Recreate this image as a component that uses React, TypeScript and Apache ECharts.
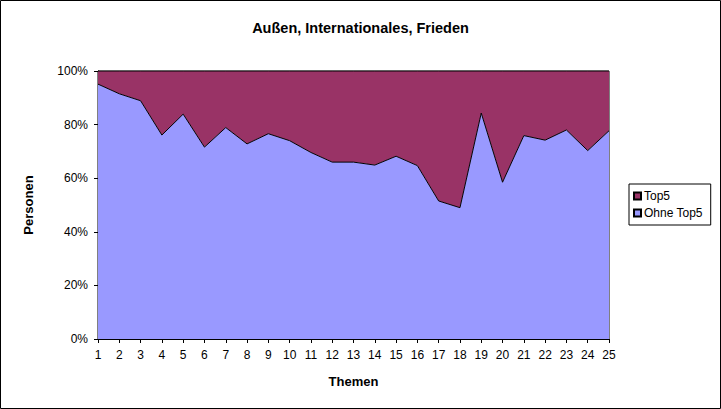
import { useEffect, useRef } from "react";
import * as echarts from "echarts";

// Themen 1..25, share of persons in percent
const themen = ["1", "2", "3", "4", "5", "6", "7", "8", "9", "10", "11", "12", "13",
  "14", "15", "16", "17", "18", "19", "20", "21", "22", "23", "24", "25"];
const ohneTop5 = [95.1, 91.5, 88.9, 76.1, 83.9, 71.6, 78.9, 72.8, 76.6, 74.0, 69.6, 66.0, 66.0,
  64.9, 68.2, 64.7, 51.5, 49.0, 84.3, 58.5, 75.9, 74.2, 78.0, 70.3, 77.7];
const top5 = [4.9, 8.5, 11.1, 23.9, 16.1, 28.4, 21.1, 27.2, 23.4, 26.0, 30.4, 34.0, 34.0,
  35.1, 31.8, 35.3, 48.5, 51.0, 15.7, 41.5, 24.1, 25.8, 22.0, 29.7, 22.3];
const yTicks = [0, 20, 40, 60, 80, 100];

const FONT = "'Liberation Sans', Arial, sans-serif";

export default function App() {
  const chartRef = useRef<HTMLDivElement>(null);

  useEffect(() => {
    if (!chartRef.current) return;
    const chart = echarts.init(chartRef.current, null, { renderer: "svg" });

    chart.setOption({
      animation: false,
      backgroundColor: "#ffffff",
      textStyle: { fontFamily: FONT },
      title: {
        text: "Außen, Internationales, Frieden",
        left: "center",
        top: 20,
        padding: 0,
        textStyle: { fontSize: 14.5, fontWeight: "bold", color: "#000", fontFamily: FONT },
      },
      graphic: [
        {
          type: "rect",
          shape: { x: 0.5, y: 0.5, width: 720, height: 408 },
          style: { fill: "none", stroke: "#000", lineWidth: 1 },
          silent: true,
        },
      ],
      legend: {
        orient: "vertical",
        left: 629,
        top: 184,
        width: 80,
        padding: [6, 8, 6, 4],
        itemGap: 5,
        itemWidth: 7,
        itemHeight: 7,
        borderColor: "#000",
        borderWidth: 1,
        icon: "rect",
        data: ["Top5", "Ohne Top5"],
        textStyle: { fontSize: 12, color: "#000", fontFamily: FONT, padding: [0, 0, 0, -2] },
      },
      grid: {
        left: 98,
        right: 112,
        top: 71,
        bottom: 70,
        show: true,
        borderColor: "#000",
        borderWidth: 1,
        backgroundColor: "transparent",
      },
      xAxis: {
        type: "category",
        data: themen,
        boundaryGap: false,
        name: "Themen",
        nameLocation: "middle",
        nameGap: 36,
        nameTextStyle: { fontSize: 13, fontWeight: "bold", color: "#000", fontFamily: FONT },
        axisLine: { lineStyle: { color: "#000", width: 1 } },
        axisTick: { show: true, inside: false, length: 4, alignWithLabel: true, lineStyle: { color: "#000" } },
        axisLabel: { fontSize: 12, color: "#000", margin: 10, interval: 0, fontFamily: FONT },
        splitLine: { show: false },
      },
      yAxis: {
        type: "value",
        min: 0,
        max: 100,
        interval: 20,
        name: "Personen",
        nameLocation: "middle",
        nameGap: 63,
        nameTextStyle: { fontSize: 13, fontWeight: "bold", color: "#000", fontFamily: FONT },
        axisLine: { show: true, lineStyle: { color: "#000", width: 1 } },
        axisTick: { show: true, length: 4, lineStyle: { color: "#000" } },
        axisLabel: {
          fontSize: 12,
          color: "#000",
          margin: 10,
          fontFamily: FONT,
          formatter: (v: number) => (yTicks.includes(v) ? `${v}%` : ""),
        },
        splitLine: { show: false },
      },
      series: [
        {
          name: "Ohne Top5",
          type: "line",
          stack: "total",
          data: ohneTop5,
          symbol: "none",
          lineStyle: { color: "#000", width: 1 },
          itemStyle: { color: "#9999FF", borderColor: "#000", borderWidth: 1 },
          areaStyle: { color: "#9999FF", opacity: 1 },
          z: 2,
        },
        {
          name: "Top5",
          type: "line",
          stack: "total",
          data: top5,
          symbol: "none",
          lineStyle: { color: "#000", width: 1 },
          itemStyle: { color: "#993366", borderColor: "#000", borderWidth: 1 },
          areaStyle: { color: "#993366", opacity: 1 },
          z: 1,
        },
      ],
    });

    return () => {
      chart.dispose();
    };
  }, []);

  return (
    <div
      ref={chartRef}
      style={{ position: "fixed", left: 0, top: 0, width: 721, height: 409 }}
    />
  );
}
